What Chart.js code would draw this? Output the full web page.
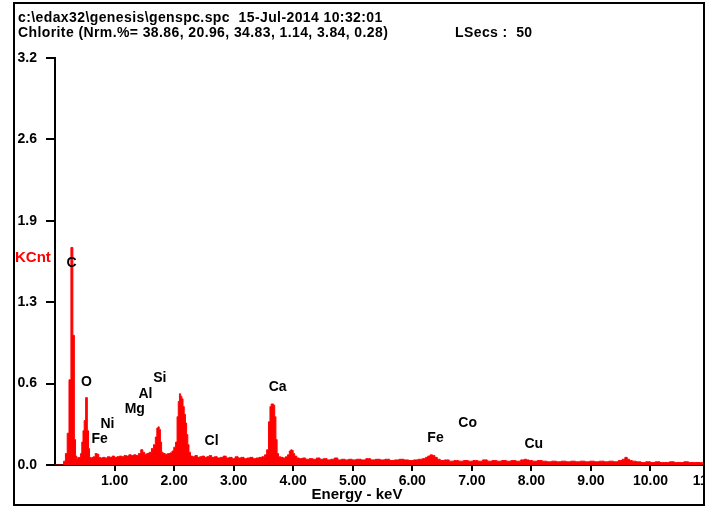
<!DOCTYPE html>
<html>
<head>
<meta charset="utf-8">
<script src="https://cdn.jsdelivr.net/npm/chart.js@4"></script>
<style>
  body { margin: 0; background: #fff; }
  #wrap { position: relative; width: 709px; height: 507px; overflow: hidden; background: #fff; }
  #plot { position: absolute; left: 0; top: 0; width: 730px; height: 507px; }
  #frame { position: absolute; left: 13px; top: 2px; width: 688px; height: 500px; border: 2px solid #000; pointer-events: none; }
  #cover { position: absolute; left: 705px; top: 0; width: 10px; height: 507px; background: #fff; }
  .head { position: absolute; font: bold 14px "Liberation Sans", Arial, sans-serif; letter-spacing: 0.4px; color: #000; white-space: pre; }
</style>
</head>
<body>
<div id="wrap">
  <div id="plot"><canvas id="chart"></canvas></div>
  <div id="cover"></div>
  <div id="frame"></div>
  <div class="head" style="left:18px; top:9px;">c:\edax32\genesis\genspc.spc  15-Jul-2014 10:32:01</div>
  <div class="head" style="left:18px; top:24px;">Chlorite (Nrm.%= 38.86, 20.96, 34.83, 1.14, 3.84, 0.28)</div>
  <div class="head" style="left:455px; top:24px;">LSecs :  50</div>
</div>
<script>
// spectrum (keV, KCnt)
var energy = [0.00, 0.13, 0.16, 0.19, 0.22, 0.25, 0.285, 0.315, 0.335, 0.355, 0.375, 0.39, 0.40, 0.42, 0.44,
  0.46, 0.48, 0.50, 0.53, 0.555, 0.57, 0.59, 0.61, 0.63, 0.66, 0.69, 0.72, 0.75, 0.78, 0.82, 0.86, 0.90, 0.94, 0.98,
  1.02, 1.06, 1.10, 1.14, 1.18, 1.22, 1.26, 1.30, 1.34, 1.38, 1.42, 1.46, 1.49, 1.52, 1.56, 1.60, 1.64, 1.67,
  1.70, 1.72, 1.74, 1.76, 1.78, 1.80, 1.83, 1.87, 1.91, 1.95, 1.98, 2.01, 2.04, 2.06, 2.08, 2.10, 2.12, 2.14,
  2.16, 2.18, 2.20, 2.22, 2.24, 2.26, 2.29, 2.33, 2.37, 2.41, 2.45, 2.49, 2.53, 2.57, 2.61, 2.65, 2.70, 2.75,
  2.80, 2.85, 2.90, 2.95, 3.00, 3.05, 3.10, 3.15, 3.20, 3.25, 3.30, 3.35, 3.40, 3.45, 3.50, 3.54, 3.57, 3.60,
  3.62, 3.64, 3.66, 3.68, 3.70, 3.72, 3.74, 3.77, 3.81, 3.85, 3.89, 3.92, 3.95, 3.97, 3.99, 4.01, 4.04, 4.08,
  4.13, 4.18, 4.24, 4.30, 4.36, 4.42, 4.48, 4.54, 4.60, 4.66, 4.72, 4.78, 4.84, 4.90, 4.96, 5.02, 5.10, 5.18,
  5.26, 5.34, 5.42, 5.50, 5.58, 5.66, 5.74, 5.82, 5.90, 5.98, 6.06, 6.14, 6.20, 6.24, 6.28, 6.32, 6.36, 6.40,
  6.44, 6.50, 6.58, 6.66, 6.74, 6.82, 6.90, 6.98, 7.06, 7.14, 7.22, 7.30, 7.38, 7.46, 7.54, 7.62, 7.70, 7.78,
  7.86, 7.90, 7.94, 7.98, 8.06, 8.14, 8.22, 8.30, 8.38, 8.46, 8.54, 8.62, 8.70, 8.78, 8.86, 8.94, 9.02, 9.10,
  9.18, 9.26, 9.34, 9.42, 9.50, 9.55, 9.59, 9.63, 9.67, 9.72, 9.80, 9.88, 9.96, 10.04, 10.12, 10.20, 10.28,
  10.36, 10.44, 10.52, 10.60, 10.68, 10.76, 10.84, 10.88];
var kcnt = [0.000, 0.000, 0.030, 0.090, 0.250, 0.670, 1.710, 1.020, 0.200, 0.070, 0.050, 0.060, 0.055, 0.060, 0.090,
  0.180, 0.270, 0.350, 0.530, 0.270, 0.130, 0.060, 0.055, 0.060, 0.065, 0.090, 0.085, 0.060, 0.055, 0.060, 0.055, 0.065, 0.060, 0.070,
  0.060, 0.065, 0.070, 0.065, 0.075, 0.070, 0.080, 0.075, 0.080, 0.075, 0.090, 0.120, 0.100, 0.085, 0.090, 0.100, 0.130, 0.160,
  0.220, 0.290, 0.300, 0.280, 0.180, 0.100, 0.090, 0.085, 0.090, 0.095, 0.110, 0.140, 0.180, 0.380, 0.500, 0.560, 0.540, 0.520,
  0.460, 0.400, 0.330, 0.240, 0.160, 0.100, 0.070, 0.065, 0.075, 0.060, 0.065, 0.070, 0.060, 0.065, 0.075, 0.060, 0.065, 0.055,
  0.060, 0.070, 0.055, 0.060, 0.050, 0.065, 0.055, 0.060, 0.050, 0.055, 0.060, 0.050, 0.055, 0.060, 0.065, 0.080, 0.120, 0.340,
  0.460, 0.480, 0.480, 0.470, 0.380, 0.200, 0.090, 0.065, 0.060, 0.055, 0.065, 0.080, 0.110, 0.120, 0.115, 0.090, 0.070, 0.055,
  0.050, 0.055, 0.045, 0.050, 0.045, 0.055, 0.045, 0.050, 0.040, 0.045, 0.055, 0.040, 0.045, 0.040, 0.045, 0.040, 0.045, 0.040,
  0.050, 0.040, 0.045, 0.040, 0.045, 0.035, 0.040, 0.045, 0.040, 0.035, 0.040, 0.045, 0.050, 0.060, 0.070, 0.080, 0.075, 0.060,
  0.045, 0.035, 0.040, 0.030, 0.035, 0.030, 0.035, 0.030, 0.035, 0.030, 0.040, 0.030, 0.035, 0.030, 0.035, 0.030, 0.035, 0.030,
  0.040, 0.045, 0.040, 0.035, 0.030, 0.035, 0.030, 0.025, 0.030, 0.025, 0.030, 0.025, 0.030, 0.025, 0.030, 0.025, 0.030, 0.025,
  0.030, 0.025, 0.030, 0.025, 0.035, 0.045, 0.060, 0.045, 0.035, 0.030, 0.025, 0.020, 0.025, 0.020, 0.025, 0.020, 0.020,
  0.025, 0.020, 0.020, 0.025, 0.020, 0.020, 0.020, 0.020];

// element markers (name, keV, KCnt where the label sits)
var peakNames = ["C", "O", "Ni", "Fe", "Mg", "Al", "Si", "Cl", "Ca", "Fe", "Co", "Cu"];
var peakKeV = [0.28, 0.53, 0.88, 0.75, 1.34, 1.52, 1.76, 2.63, 3.74, 6.39, 6.93, 8.04];
var peakKCnt = [1.59, 0.65, 0.32, 0.20, 0.44, 0.56, 0.68, 0.19, 0.61, 0.21, 0.33, 0.165];

var xTicks = [1, 2, 3, 4, 5, 6, 7, 8, 9, 10, 11];
var yTicks = [0, 0.64, 1.28, 1.92, 2.56, 3.2];

var tickFont = { family: "'Liberation Sans', Arial, sans-serif", weight: 'bold', size: 14 };

var labelPlugin = {
  id: 'labels',
  afterDatasetsDraw: function(chart) {
    var ctx = chart.ctx, xs = chart.scales.x, ys = chart.scales.y;
    ctx.save();
    ctx.font = "bold 14px 'Liberation Sans', Arial, sans-serif";
    ctx.fillStyle = '#000';
    ctx.textAlign = 'center';
    ctx.textBaseline = 'middle';
    for (var i = 0; i < peakNames.length; i++) {
      ctx.fillText(peakNames[i], xs.getPixelForValue(peakKeV[i]), ys.getPixelForValue(peakKCnt[i]));
    }
    ctx.fillStyle = '#ff0000';
    ctx.textAlign = 'left';
    ctx.font = "bold 15px 'Liberation Sans', Arial, sans-serif";
    ctx.fillText('KCnt', 15, 258);
    ctx.fillStyle = '#000';
    ctx.textAlign = 'center';
    ctx.fillText('Energy - keV', 357, 495);
    ctx.restore();
  }
};

new Chart(document.getElementById('chart'), {
  type: 'line',
  data: {
    datasets: [{
      data: energy.map(function(e, i) { return { x: e, y: kcnt[i] }; }),
      stepped: 'middle',
      fill: 'origin',
      borderColor: '#ff0000',
      backgroundColor: '#ff0000',
      borderWidth: 1,
      pointRadius: 0
    }]
  },
  options: {
    animation: false,
    responsive: true,
    maintainAspectRatio: false,
    layout: { padding: { top: 58, right: 20, left: 0, bottom: 0 } },
    plugins: { legend: { display: false }, tooltip: { enabled: false } },
    scales: {
      x: {
        type: 'linear', min: 0, max: 11,
        afterBuildTicks: function(s) { s.ticks = xTicks.map(function(v) { return { value: v }; }); },
        afterFit: function(s) { s.height = 42; },
        ticks: { callback: function(v) { return v.toFixed(2); }, font: tickFont, color: '#000', padding: 2, maxRotation: 0, autoSkip: false },
        grid: { drawOnChartArea: false, drawTicks: true, tickLength: 6, color: '#000', lineWidth: 2 },
        border: { display: true, color: '#000', width: 2 }
      },
      y: {
        min: 0, max: 3.2,
        afterBuildTicks: function(s) { s.ticks = yTicks.map(function(v) { return { value: v }; }); },
        afterFit: function(s) { s.width = 55; },
        ticks: { callback: function(v) { return v.toFixed(1); }, font: tickFont, color: '#000', padding: 9 },
        grid: { drawOnChartArea: false, drawTicks: true, tickLength: 9, color: '#000', lineWidth: 2 },
        border: { display: true, color: '#000', width: 2 }
      }
    }
  },
  plugins: [labelPlugin]
});
</script>
</body>
</html>
